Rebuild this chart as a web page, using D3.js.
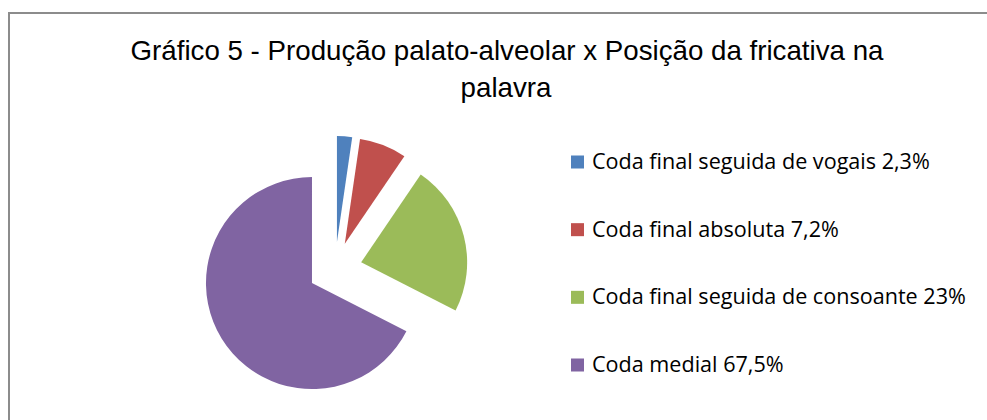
<!DOCTYPE html>
<html lang="pt">
<head>
  <meta charset="UTF-8">
  <title>Gráfico 5</title>
  <style>
    body { margin: 0; background: #fff; }
    svg { display: block; }
    .title { font-family: "Liberation Sans Narrow", "Liberation Sans", sans-serif; fill: #000; }
    .legend text { font-family: "Open Sans", "Noto Sans", sans-serif; fill: #000; }
  </style>
</head>
<body>
  <div id="chart"></div>
  <script src="https://d3js.org/d3.v7.min.js"></script>
  <script>
    // data
    const categories = ["Coda final seguida de vogais", "Coda final absoluta",
                        "Coda final seguida de consoante", "Coda medial"];
    const values = [2.3, 7.2, 23, 67.5];
    const valueLabels = ["2,3%", "7,2%", "23%", "67,5%"];
    const colors = ["#4F81BD", "#C0504D", "#9BBB59", "#8064A2"];
    const titleLines = ["Gráfico 5 - Produção palato-alveolar x Posição da fricativa na", "palavra"];

    const W = 987, H = 420;
    const svg = d3.select('#chart').append('svg')
      .attr('width', W).attr('height', H);

    // chart frame (runs off the right and bottom edge)
    svg.append('rect')
      .attr('x', 9).attr('y', 13)
      .attr('width', W + 20).attr('height', H + 20)
      .attr('fill', 'none').attr('stroke', '#8c8c8c').attr('stroke-width', 2);

    // title, squeezed like the original
    const t1 = svg.append('text').attr('class', 'title')
      .attr('x', 507).attr('y', 60).attr('text-anchor', 'middle')
      .style('font-size', '28px').text(titleLines[0]);
    const w1 = t1.node().getComputedTextLength();
    const squeeze = 753 / w1;
    t1.attr('textLength', 753).attr('lengthAdjust', 'spacingAndGlyphs');
    const t2 = svg.append('text').attr('class', 'title')
      .attr('x', 506).attr('y', 97).attr('text-anchor', 'middle')
      .style('font-size', '28px').text(titleLines[1]);
    const w2 = t2.node().getComputedTextLength();
    t2.attr('textLength', w2 * squeeze).attr('lengthAdjust', 'spacingAndGlyphs');

    // exploded pie
    const cx = 335, cy = 269, radius = 106, explode = 27;
    const pie = d3.pie().sort(null).value(d => d)(values);
    const arc = d3.arc().innerRadius(0).outerRadius(radius);
    const g = svg.append('g').attr('transform', 'translate(' + cx + ',' + cy + ')');
    g.selectAll('path')
      .data(pie)
      .enter()
      .append('path')
      .attr('d', arc)
      .attr('fill', (d, i) => colors[i])
      .attr('transform', function (d) {
        const a = (d.startAngle + d.endAngle) / 2;
        return 'translate(' + (Math.sin(a) * explode) + ',' + (-Math.cos(a) * explode) + ')';
      });

    // legend
    const y = d3.scalePoint().domain(d3.range(categories.length)).range([162, 365]);
    const legend = svg.append('g').attr('class', 'legend');
    const items = legend.selectAll('g')
      .data(categories)
      .enter()
      .append('g')
      .attr('transform', (d, i) => 'translate(571,' + y(i) + ')');
    items.append('rect')
      .attr('x', 0).attr('y', -6.5)
      .attr('width', 13).attr('height', 13)
      .attr('fill', (d, i) => colors[i]);
    const labels = items.append('text')
      .attr('x', 21).attr('y', 7)
      .style('font-size', '20px')
      .text((d, i) => d + ' ' + valueLabels[i]);
    // fit font size so the longest entry is as wide as in the picture
    const longest = labels.nodes()[2].getComputedTextLength();
    labels.style('font-size', (20 * 374 / longest) + 'px');
  </script>
</body>
</html>
